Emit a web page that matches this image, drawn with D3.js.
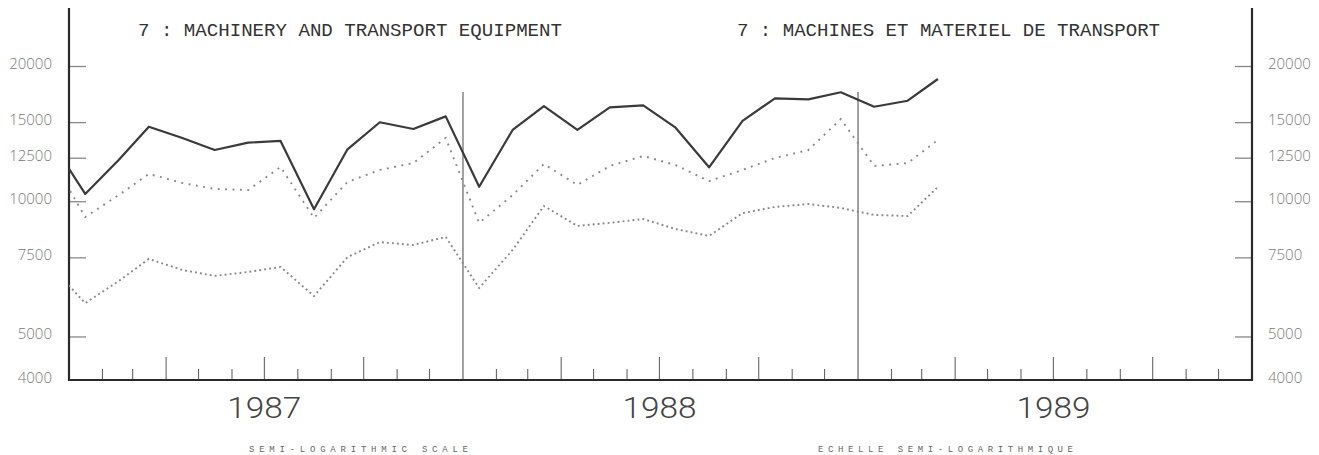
<!DOCTYPE html>
<html>
<head>
<meta charset="utf-8">
<script src="https://cdn.jsdelivr.net/npm/d3@7"></script>
<style>
  html, body { margin: 0; padding: 0; background: #ffffff; }
  svg { display: block; }
</style>
</head>
<body>
<svg id="chart" width="1319" height="455"></svg>
<script>
// ---- Data (monthly, Dec 1986 .. Mar 1989) ----
const months = [
  "1986-12","1987-01","1987-02","1987-03","1987-04","1987-05","1987-06","1987-07",
  "1987-08","1987-09","1987-10","1987-11","1987-12","1988-01","1988-02","1988-03",
  "1988-04","1988-05","1988-06","1988-07","1988-08","1988-09","1988-10","1988-11",
  "1988-12","1989-01","1989-02","1989-03"
];
// solid line
const seriesSolid = [
  13550, 10380, 12350, 14650, 13830, 13000, 13500, 13620,
  9600, 13050, 14990, 14480, 15450, 10770, 14410, 16290,
  14410, 16180, 16350, 14580, 11900, 15090, 16950, 16860,
  17480, 16230, 16740, 18710
];
// upper dotted line
const seriesUpper = [
  12420, 9220, 10320, 11500, 10980, 10650, 10590, 11920,
  9180, 11040, 11740, 12160, 13830, 8950, 10320, 12100,
  10870, 11980, 12610, 12040, 11090, 11740, 12480, 13000,
  15240, 11980, 12160, 13690
];
// lower dotted line
const seriesLower = [
  7140, 5930, 6640, 7440, 7030, 6820, 6960, 7140,
  6150, 7510, 8110, 7990, 8330, 6410, 7790, 9760,
  8810, 8950, 9130, 8670, 8370, 9410, 9710, 9860,
  9660, 9320, 9270, 10760
];
const yTickValues = [5000, 7500, 10000, 12500, 15000, 20000];
const yLabelValues = [4000, 5000, 7500, 10000, 12500, 15000, 20000];
const yearLabels = ["1987", "1988", "1989"];
const titleEn = "7 : MACHINERY AND TRANSPORT EQUIPMENT";
const titleFr = "7 : MACHINES ET MATERIEL DE TRANSPORT";
const noteEn = "SEMI-LOGARITHMIC SCALE";
const noteFr = "ECHELLE SEMI-LOGARITHMIQUE";

// ---- Layout ----
const L = 69, R = 1252, B = 380, T = 8;
const svg = d3.select("#chart");

const parse = d3.timeParse("%Y-%m");
const midMonth = s => { const d = parse(s); return new Date(d.getFullYear(), d.getMonth(), 16); };

const x = d3.scaleTime()
  .domain([new Date(1987, 0, 1), new Date(1990, 0, 1)])
  .range([L, R]);
const y = d3.scaleLog()
  .domain([4000, 20000])
  .range([B, 66]);

// clip for lines
svg.append("defs").append("clipPath").attr("id", "plotclip")
  .append("rect").attr("x", L).attr("y", 0).attr("width", R - L).attr("height", B);

// Titles
svg.append("text").text(titleEn)
  .attr("x", 138).attr("y", 36)
  .attr("textLength", 424).attr("lengthAdjust", "spacingAndGlyphs")
  .style("font-family", "'Liberation Mono', 'DejaVu Sans Mono', monospace")
  .style("font-size", "19px").style("fill", "#333");
svg.append("text").text(titleFr)
  .attr("x", 737).attr("y", 36)
  .attr("textLength", 423).attr("lengthAdjust", "spacingAndGlyphs")
  .style("font-family", "'Liberation Mono', 'DejaVu Sans Mono', monospace")
  .style("font-size", "19px").style("fill", "#333");

// Separator lines at year boundaries
const sepDates = [new Date(1988, 0, 1), new Date(1989, 0, 1)];
svg.selectAll("line.sep").data(sepDates).enter().append("line")
  .attr("class", "sep")
  .attr("x1", d => x(d)).attr("x2", d => x(d))
  .attr("y1", B).attr("y2", 92)
  .attr("stroke", "#555").attr("stroke-width", 1.1);

// Left / right y axes via d3.axis
const yAxisL = d3.axisRight(y).tickValues(yTickValues).tickSize(17).tickFormat("");
const yAxisR = d3.axisLeft(y).tickValues(yTickValues).tickSize(17).tickFormat("");
const gL = svg.append("g").attr("transform", `translate(${L},0)`).call(yAxisL);
const gR = svg.append("g").attr("transform", `translate(${R},0)`).call(yAxisR);
[gL, gR].forEach(g => {
  g.select(".domain").remove();
  g.selectAll(".tick line").attr("stroke", "#888").attr("stroke-width", 1.3);
});

// y labels
const labelStyle = sel => sel
  .style("font-family", "'Open Sans', 'DejaVu Sans', sans-serif")
  .style("font-weight", "300")
  .style("font-size", "15px")
  .style("fill", "#777");
svg.selectAll("text.yl").data(yLabelValues).enter().append("text")
  .attr("class", "yl")
  .attr("x", 52).attr("y", d => y(d) - 1)
  .attr("text-anchor", "end").attr("dominant-baseline", "middle")
  .text(d => d).call(labelStyle);
svg.selectAll("text.yr").data(yLabelValues).enter().append("text")
  .attr("class", "yr")
  .attr("x", 1268).attr("y", d => y(d) - 1)
  .attr("text-anchor", "start").attr("dominant-baseline", "middle")
  .text(d => d).call(labelStyle);

// bottom axis month ticks
const monthTicks = d3.timeMonth.range(new Date(1987, 1, 1), new Date(1990, 0, 1))
  .filter(d => d.getMonth() !== 0);
svg.selectAll("line.mt").data(monthTicks).enter().append("line")
  .attr("class", "mt")
  .attr("x1", d => x(d)).attr("x2", d => x(d))
  .attr("y1", B).attr("y2", d => d.getMonth() % 3 === 0 ? B - 23 : B - 11)
  .attr("stroke", "#666").attr("stroke-width", 1.1);

// frame: left, right, bottom
svg.append("path")
  .attr("d", `M${L},${T}V${B}H${R}V${T}`)
  .attr("fill", "none").attr("stroke", "#2a2a2a").attr("stroke-width", 2.2);

// year labels
svg.selectAll("text.year").data(yearLabels).enter().append("text")
  .attr("class", "year")
  .attr("x", d => x(new Date(+d, 6, 1)))
  .attr("y", 418)
  .attr("text-anchor", "middle")
  .attr("textLength", 74).attr("lengthAdjust", "spacingAndGlyphs")
  .style("font-family", "Roboto, 'Open Sans', sans-serif")
  .style("font-weight", "300")
  .style("font-size", "30px")
  .style("fill", "#444")
  .text(d => d);

// notes
svg.append("text").text(noteEn)
  .attr("x", 249).attr("y", 452)
  .attr("textLength", 219).attr("lengthAdjust", "spacing")
  .style("font-family", "'Liberation Mono', monospace")
  .style("font-size", "9px").style("fill", "#666");
svg.append("text").text(noteFr)
  .attr("x", 818).attr("y", 452)
  .attr("textLength", 255).attr("lengthAdjust", "spacing")
  .style("font-family", "'Liberation Mono', monospace")
  .style("font-size", "9px").style("fill", "#666");

// lines
const dates = months.map(midMonth);
const line = d3.line().x((d, i) => x(dates[i])).y(d => y(d));
const plot = svg.append("g").attr("clip-path", "url(#plotclip)");

plot.append("path").datum(seriesLower)
  .attr("d", line).attr("fill", "none")
  .attr("stroke", "#888").attr("stroke-width", 1.9)
  .attr("stroke-dasharray", "1.9,3.1");
plot.append("path").datum(seriesUpper)
  .attr("d", line).attr("fill", "none")
  .attr("stroke", "#888").attr("stroke-width", 1.9)
  .attr("stroke-dasharray", "1.9,5.5");
plot.append("path").datum(seriesSolid)
  .attr("d", line).attr("fill", "none")
  .attr("stroke", "#3a3a3a").attr("stroke-width", 2.2)
  .attr("stroke-linejoin", "round");
</script>
</body>
</html>
